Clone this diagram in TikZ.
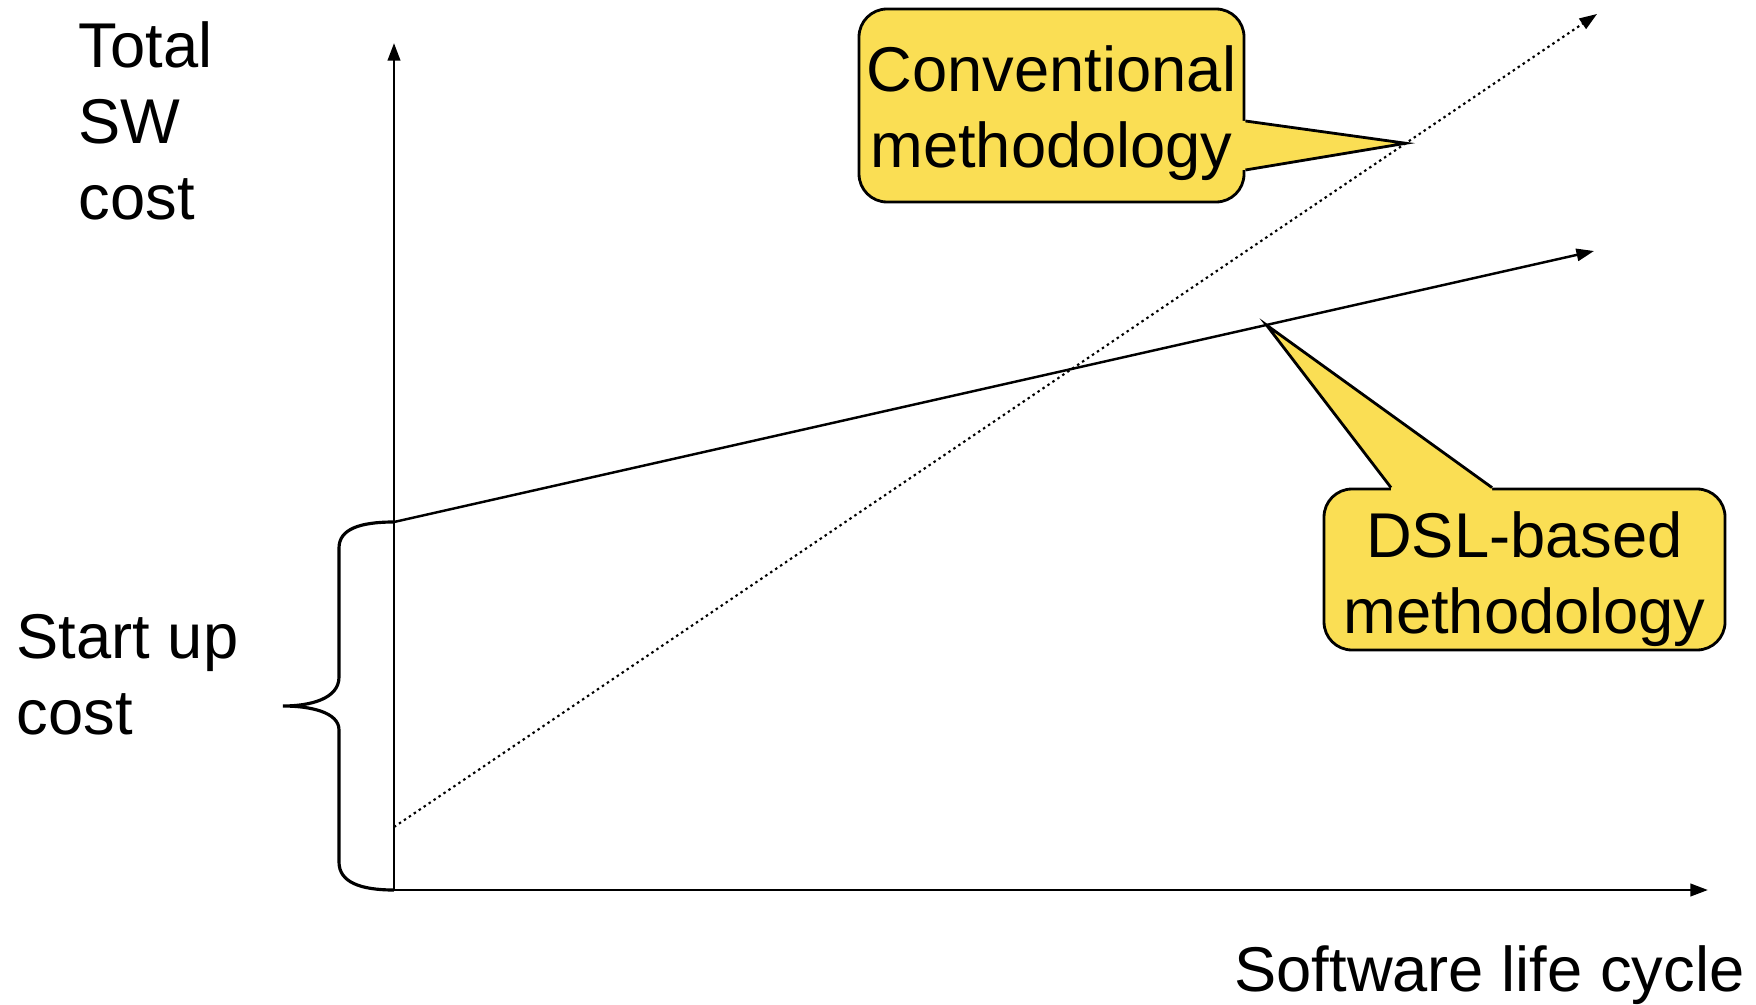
\documentclass[tikz,border=0pt]{standalone}
\usepackage{fontspec}
\setmainfont{Liberation Sans}
\usetikzlibrary{arrows.meta}

\definecolor{noteyellow}{RGB}{250,222,84}

\begin{document}
\begin{tikzpicture}[
  axis/.style  = { line width=0.8pt, -{Triangle[length=5pt,width=3.5pt]} },
  trend/.style = { line width=0.7pt, -{Triangle[length=5pt,width=3.5pt]} },
  label/.style = { font=\fontsize{18}{21.6}\selectfont, inner sep=0pt },
  note/.style  = { fill=noteyellow, draw, line width=0.8pt, rounded corners=0.28cm },
  tail/.style  = { line width=0.8pt }]
  \useasboundingbox (0,0) rectangle (17.56,10.04);

  % axes
  \coordinate (o)    at (3.94,1.14);
  \coordinate (ytop) at (3.94,9.61);
  \coordinate (xend) at (17.08,1.14);
  \draw [axis] (o) -- (ytop);
  \draw [axis] (o) -- (xend);

  % cost lines
  \coordinate (dslstart)  at (3.94,4.82);
  \coordinate (dslend)    at (15.94,7.53);
  \coordinate (convstart) at (3.94,1.77);
  \coordinate (convend)   at (15.97,9.90);
  \draw [trend] (dslstart) -- coordinate[pos=0.727] (dsltip) (dslend);
  \draw [trend, densely dotted, line width=0.6pt]
    (convstart) -- coordinate[pos=0.841] (convtip) (convend);

  % start up brace
  \draw [line width=0.9pt]
    (dslstart) .. controls (3.60,4.82) and (3.39,4.75) .. (3.39,4.56)
    -- (3.39,3.27) .. controls (3.39,3.05) and (3.10,2.98) .. (2.83,2.98)
    .. controls (3.10,2.98) and (3.39,2.92) .. (3.39,2.74)
    -- (3.39,1.42) .. controls (3.39,1.22) and (3.60,1.14) .. (o);

  % texts
  \node [label, align=left, anchor=north west] (ylabel)  at (0.78,9.83) {Total\\SW\\cost};
  \node [label, align=left, anchor=north west] (startup) at (0.16,3.90) {Start up\\cost};
  \node [label, anchor=base east] (xlabel) at (17.45,0.13) {Software life cycle};

  % callouts
  \node [note, minimum width=3.85cm, minimum height=1.93cm] (conv) at (10.515,8.985) {};
  \coordinate (convbase1) at ([yshift=-0.155cm]conv.east);
  \coordinate (convbase2) at ([yshift=-0.645cm]conv.east);
  \fill [noteyellow] ([xshift=-1.2pt]convbase1) -- (convbase1) -- (convtip)
    -- (convbase2) -- ([xshift=-1.2pt]convbase2) -- cycle;
  \draw [tail] (convbase1) -- (convtip) -- (convbase2);
  \node [label, align=center] (convtext) at ([yshift=-0.08cm]conv.center)
    {Conventional\\methodology};

  \node [note, minimum width=4.01cm, minimum height=1.61cm] (dsl) at (15.245,4.345) {};
  \coordinate (dslbase1) at ([xshift=-1.335cm]dsl.north);
  \coordinate (dslbase2) at ([xshift=-0.325cm]dsl.north);
  \fill [noteyellow] ([yshift=-1.2pt]dslbase1) -- (dslbase1) -- (dsltip)
    -- (dslbase2) -- ([yshift=-1.2pt]dslbase2) -- cycle;
  \draw [tail] (dslbase1) -- (dsltip) -- (dslbase2);
  \node [label, align=center] (dsltext) at ([yshift=-0.1cm]dsl.center)
    {DSL-based\\methodology};
\end{tikzpicture}
\end{document}
